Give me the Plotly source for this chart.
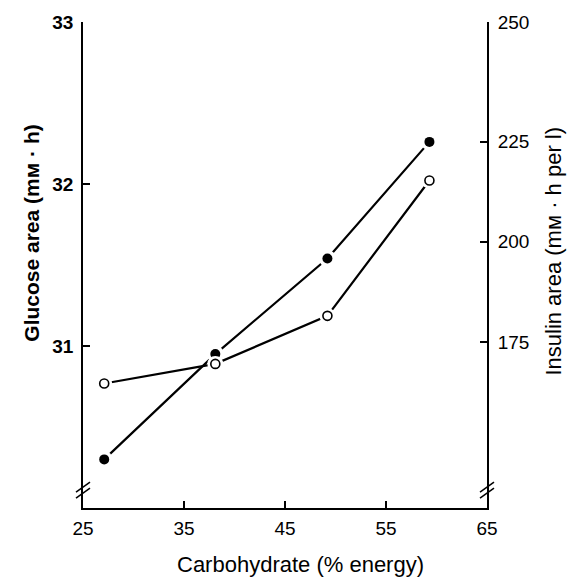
import plotly.graph_objects as go

# Dietary carbohydrate (% energy) and the two response areas
carb = [27.1, 38.1, 49.2, 59.3]
glucose_area = [30.30, 30.95, 31.54, 32.26]      # mM·h, filled circles, left axis
insulin_area = [164.6, 169.5, 181.5, 215.3]      # mM·h per l, open circles, right axis

x_ticks = [25, 35, 45, 55, 65]
glucose_ticks = [31, 32, 33]
insulin_ticks = [175, 200, 225]
insulin_top_label = "250"

X_RANGE = [25, 65]
GLU_RANGE = [30.0, 33.0]
INS_RANGE = [133.5, 254.9]

W, H = 569, 580
ML, MR, MT, MB = 83, 82, 19, 72
PW = W - ML - MR
PH = H - MT - MB


def px_x(px):
    return (px - ML) / PW


def px_y(py):
    return 1 - (py - MT) / PH


FONT = "Liberation Sans, Arial, Helvetica, sans-serif"
INK = "black"

fig = go.Figure()

# connecting lines
fig.add_trace(go.Scatter(x=carb, y=glucose_area, mode="lines",
                         line=dict(color=INK, width=2.2), yaxis="y",
                         showlegend=False, hoverinfo="skip"))
fig.add_trace(go.Scatter(x=carb, y=insulin_area, mode="lines",
                         line=dict(color=INK, width=2.2), yaxis="y2",
                         showlegend=False, hoverinfo="skip"))

# white halos leave a small gap where lines meet the symbols
fig.add_trace(go.Scatter(x=carb, y=glucose_area, mode="markers",
                         marker=dict(size=17, color="white", line=dict(width=0)),
                         yaxis="y", showlegend=False, hoverinfo="skip"))
fig.add_trace(go.Scatter(x=carb, y=insulin_area, mode="markers",
                         marker=dict(size=16, color="white", line=dict(width=0)),
                         yaxis="y2", showlegend=False, hoverinfo="skip"))

# symbols
fig.add_trace(go.Scatter(x=carb, y=glucose_area, mode="markers", name="Glucose",
                         marker=dict(size=10, color=INK, symbol="circle",
                                     line=dict(width=0)),
                         yaxis="y", showlegend=False))
fig.add_trace(go.Scatter(x=carb, y=insulin_area, mode="markers", name="Insulin",
                         marker=dict(size=9, color="white", symbol="circle",
                                     line=dict(width=1.6, color=INK)),
                         yaxis="y2", showlegend=False))

axis_common = dict(showgrid=False, zeroline=False, showline=True,
                   linecolor=INK, linewidth=1.8, ticks="inside", ticklen=7,
                   tickwidth=1.5, tickcolor=INK)

fig.update_layout(
    width=W, height=H,
    margin=dict(l=ML, r=MR, t=MT, b=MB, pad=0),
    paper_bgcolor="white", plot_bgcolor="white",
    font=dict(family=FONT, color=INK),
    xaxis=dict(range=X_RANGE, tickvals=x_ticks, ticktext=[str(v) for v in x_ticks],
               tickfont=dict(size=19, family=FONT), ticklabelstandoff=2,
               **axis_common),
    yaxis=dict(range=GLU_RANGE, tickvals=glucose_ticks,
               ticktext=[str(v) for v in glucose_ticks],
               tickfont=dict(size=19, family=FONT, weight="bold"),
               ticklabelstandoff=4, **axis_common),
    yaxis2=dict(range=INS_RANGE, overlaying="y", side="right",
                # the top label marks the end of the axis
                tickvals=insulin_ticks + [INS_RANGE[1]],
                ticktext=[str(v) for v in insulin_ticks] + [insulin_top_label],
                tickfont=dict(size=19, family=FONT),
                ticklabelstandoff=5, **axis_common),
)

# axis titles
fig.add_annotation(text="Glucose area (mм · h)", xref="paper", yref="paper",
                   x=px_x(32), y=px_y(232), textangle=-90,
                   showarrow=False, xanchor="center", yanchor="middle",
                   font=dict(size=21, family=FONT, weight="bold"))
fig.add_annotation(text="Insulin area (mм · h per l)", xref="paper", yref="paper",
                   x=px_x(554), y=px_y(250), textangle=-90,
                   showarrow=False, xanchor="center", yanchor="middle",
                   font=dict(size=22, family=FONT))
fig.add_annotation(text="Carbohydrate (% energy)", xref="paper", yref="paper",
                   x=px_x(300), y=px_y(565),
                   showarrow=False, xanchor="center", yanchor="middle",
                   font=dict(size=22, family=FONT))

# broken-axis marks on both vertical axes
BREAK_Y = 30.11
for xa in (0, 1):
    for dy in (-3, 3):
        fig.add_shape(type="line", xref="paper", yref="y",
                      xsizemode="pixel", xanchor=xa,
                      ysizemode="pixel", yanchor=BREAK_Y,
                      x0=-7, x1=7, y0=dy - 5, y1=dy + 5,
                      line=dict(color=INK, width=1.5))

fig.write_html("out.html")
